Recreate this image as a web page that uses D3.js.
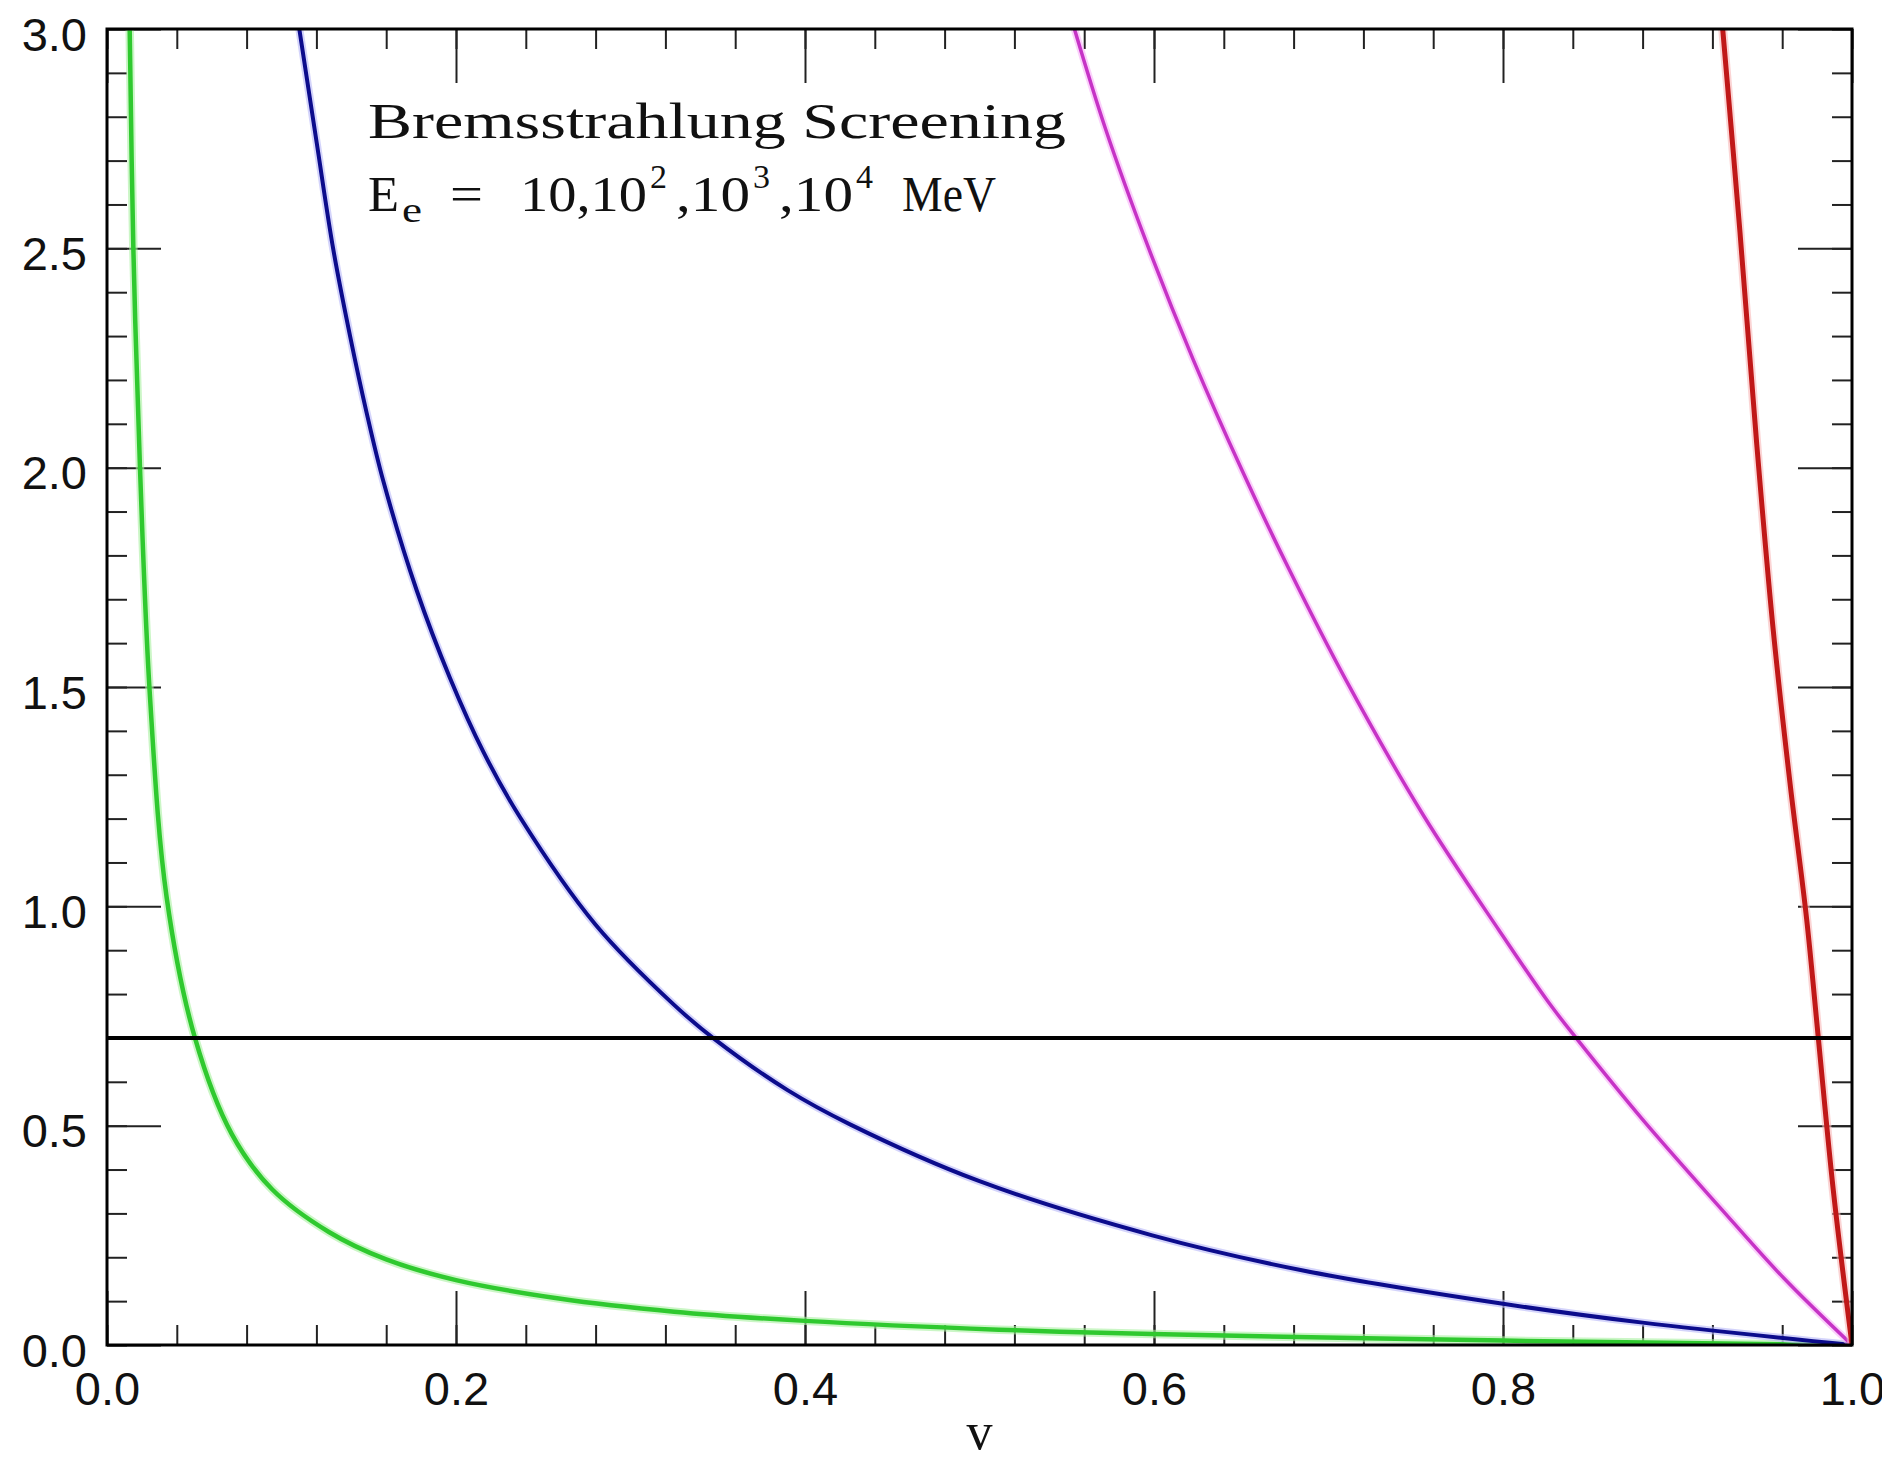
<!DOCTYPE html>
<html>
<head>
<meta charset="utf-8">
<script src="https://d3js.org/d3.v7.min.js"></script>
<style>
    body { margin: 0; background: #fff; }
    svg { display: block; }
</style>
</head>
<body>
<div id="chart"></div>
<script>
// values: v and the screening value for each electron energy
const greenV = [0.0130, 0.0151, 0.0189, 0.0246, 0.0342, 0.0504, 0.0716, 0.0946, 0.1274, 0.160, 0.200, 0.259, 0.325, 0.400, 0.511, 0.599, 0.800, 1.0];
const greenY = [3.0, 2.50, 2.00, 1.48, 1.02, 0.70, 0.480, 0.355, 0.257, 0.195, 0.148, 0.106, 0.076, 0.055, 0.035, 0.025, 0.010, 0.0];

const blueV = [0.1102, 0.1202, 0.1297, 0.1393, 0.1488, 0.1583, 0.1775, 0.1966, 0.2157, 0.2367, 0.280, 0.3245, 0.3476, 0.390, 0.4258, 0.4996, 0.599, 0.684, 0.800, 0.880, 1.0];
const blueY = [3.0, 2.74, 2.497, 2.30, 2.125, 1.97, 1.72, 1.52, 1.352, 1.203, 0.958, 0.777, 0.699, 0.581, 0.503, 0.374, 0.250, 0.171, 0.094, 0.051, 0.0];

const magentaV = [0.5544, 0.572, 0.596, 0.6224, 0.6509, 0.6772, 0.7101, 0.754, 0.7978, 0.8263, 0.8429, 0.8798, 0.924, 0.961, 1.0];
const magentaY = [3.0, 2.775, 2.51, 2.247, 1.99, 1.77, 1.515, 1.21, 0.945, 0.78, 0.695, 0.515, 0.315, 0.152, 0.0];

const redV = [0.9259, 0.9358, 0.9454, 0.9549, 0.9645, 0.974, 0.9807, 0.9893, 1.0];
const redY = [3.0, 2.537, 2.054, 1.628, 1.28, 0.971, 0.70, 0.352, 0.0];

const hLineValue = 0.7;

const xTickValues = [0, 0.2, 0.4, 0.6, 0.8, 1.0];
const xTickLabels = ["0.0", "0.2", "0.4", "0.6", "0.8", "1.0"];
const yTickValues = [0, 0.5, 1.0, 1.5, 2.0, 2.5, 3.0];
const yTickLabels = ["0.0", "0.5", "1.0", "1.5", "2.0", "2.5", "3.0"];

const xTitle = "v";
const title = "Bremsstrahlung Screening";

let width = 1882;
let height = 1457;
let pLeft = 107, pRight = 1852, pTop = 29, pBottom = 1345;

let svg = d3.select("#chart")
    .append("svg")
    .attr("width", width)
    .attr("height", height);

let x = d3.scaleLinear().domain([0, 1]).range([pLeft, pRight]);
let y = d3.scaleLinear().domain([0, 3]).range([pBottom, pTop]);

let xMinor = d3.range(0, 1.0001, 0.04);
let yMinor = d3.range(0, 3.0001, 0.1);

function addAxis(axis, tx, ty) {
    let g = svg.append("g")
        .attr("transform", "translate(" + tx + "," + ty + ")")
        .call(axis)
        .attr("font-family", "'Liberation Sans', Arial, sans-serif")
        .attr("font-size", 47);
    g.select(".domain").remove();
    g.selectAll(".tick line").attr("stroke", "#222").attr("stroke-width", 2);
    g.selectAll(".tick text").attr("fill", "#111");
    return g;
}

// minor ticks on all four sides
addAxis(d3.axisBottom(x).tickValues(xMinor).tickFormat("").tickSizeInner(-20).tickSizeOuter(0), 0, pBottom);
addAxis(d3.axisTop(x).tickValues(xMinor).tickFormat("").tickSizeInner(-20).tickSizeOuter(0), 0, pTop);
addAxis(d3.axisLeft(y).tickValues(yMinor).tickFormat("").tickSizeInner(-20).tickSizeOuter(0), pLeft, 0);
addAxis(d3.axisRight(y).tickValues(yMinor).tickFormat("").tickSizeInner(-20).tickSizeOuter(0), pRight, 0);

// major ticks
addAxis(d3.axisBottom(x).tickValues(xTickValues).tickFormat((d, i) => xTickLabels[i])
    .tickSizeInner(-54).tickSizeOuter(0).tickPadding(27), 0, pBottom);
addAxis(d3.axisTop(x).tickValues(xTickValues).tickFormat("").tickSizeInner(-54).tickSizeOuter(0), 0, pTop);
let yAx = addAxis(d3.axisLeft(y).tickValues(yTickValues).tickFormat((d, i) => yTickLabels[i])
    .tickSizeInner(-54).tickSizeOuter(0).tickPadding(20), pLeft, 0);
yAx.selectAll(".tick text").attr("dy", 21);
addAxis(d3.axisRight(y).tickValues(yTickValues).tickFormat("").tickSizeInner(-54).tickSizeOuter(0), pRight, 0);

svg.append("clipPath")
    .attr("id", "plot")
    .append("rect")
    .attr("x", pLeft)
    .attr("y", pTop)
    .attr("width", pRight - pLeft)
    .attr("height", pBottom - pTop);

let line = d3.line()
    .x(d => x(d[0]))
    .y(d => y(d[1]))
    .curve(d3.curveCatmullRom.alpha(0.5));

let curves = [
    {v: greenV, y: greenY, color: "#2fc92f", glow: "#a8f0a0", w: 4.5},
    {v: blueV, y: blueY, color: "#0c0c8c", glow: "#b8b8f8", w: 4},
    {v: magentaV, y: magentaY, color: "#c633c6", glow: "#f8b0f8", w: 3.5},
    {v: redV, y: redY, color: "#c01818", glow: "#f8b8b8", w: 5}
];

let plot = svg.append("g").attr("clip-path", "url(#plot)");

curves.forEach(c => {
    let pts = d3.zip(c.v, c.y);
    plot.append("path")
        .datum(pts)
        .attr("fill", "none")
        .attr("stroke", c.glow)
        .attr("stroke-width", c.w + 4)
        .attr("stroke-opacity", 0.6)
        .attr("d", line);
    plot.append("path")
        .datum(pts)
        .attr("fill", "none")
        .attr("stroke", c.color)
        .attr("stroke-width", c.w)
        .attr("d", line);
});

svg.append("line")
    .attr("x1", x(0))
    .attr("x2", x(1))
    .attr("y1", y(hLineValue))
    .attr("y2", y(hLineValue))
    .attr("stroke", "#000")
    .attr("stroke-width", 4);

// frame
svg.append("rect")
    .attr("x", pLeft)
    .attr("y", pTop)
    .attr("width", pRight - pLeft)
    .attr("height", pBottom - pTop)
    .attr("fill", "none")
    .attr("stroke", "#000")
    .attr("stroke-width", 3);

svg.append("text")
    .attr("x", (pLeft + pRight) / 2)
    .attr("y", 1449)
    .attr("text-anchor", "middle")
    .style("font-family", "'Liberation Serif', 'Times New Roman', serif")
    .style("font-size", "52px")
    .attr("fill", "#111")
    .text(xTitle);

// annotation
svg.append("text")
    .attr("x", 368)
    .attr("y", 138)
    .attr("textLength", 698)
    .attr("lengthAdjust", "spacingAndGlyphs")
    .style("font-family", "'Liberation Serif', 'Times New Roman', serif")
    .style("font-size", "50px")
    .attr("fill", "#111")
    .text(title);

let pieces = [
    ["E", 368, 211, 50, 31],
    ["e", 402, 222, 36, 20],
    ["=", 450, 211, 50, 33],
    ["10,10", 520, 211, 50, 127],
    ["2", 650, 188, 34, 17],
    [",10", 676, 211, 50, 74],
    ["3", 753, 188, 34, 17],
    [",10", 779, 211, 50, 74],
    ["4", 856, 188, 34, 17],
    ["MeV", 902, 211, 50, 94]
];

pieces.forEach(p => {
    svg.append("text")
        .attr("x", p[1])
        .attr("y", p[2])
        .attr("textLength", p[4])
        .attr("lengthAdjust", "spacingAndGlyphs")
        .style("font-family", "'Liberation Serif', 'Times New Roman', serif")
        .style("font-size", p[3] + "px")
        .attr("fill", "#111")
        .text(p[0]);
});
</script>
</body>
</html>
